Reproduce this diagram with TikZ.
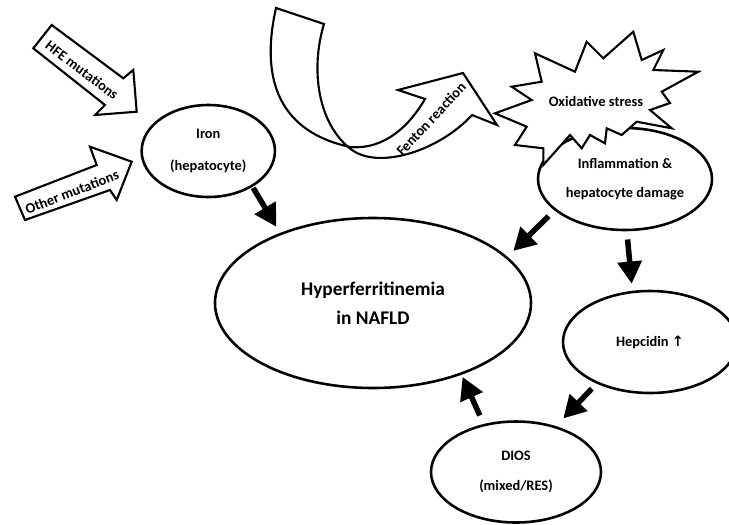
\documentclass[tikz,border=0pt]{standalone}
\usepackage{fontspec}
\setmainfont{Carlito}
\newfontfamily\arrowfont{DejaVu Sans}
\usetikzlibrary{shapes.geometric}
\usetikzlibrary{arrows.meta}
\tikzset{
    bubble/.style={ellipse, draw=black, fill=white, line width=2.2pt, inner sep=0pt, align=center,
             font=\bfseries\fontsize{12.3}{25}\selectfont},
    bigbubble/.style={bubble, font=\bfseries\fontsize{16.5}{25}\selectfont},
    blockarrow/.style={draw=black, fill=white, line width=1.8pt, line join=miter},
    burst/.style={draw=black, fill=white, line width=1.8pt, line join=miter},
    arrowtext/.style={inner sep=0pt, font=\bfseries\fontsize{12.3}{14}\selectfont},
    flow/.style={draw=black, line width=4.7pt, -{Triangle[length=19pt,width=20pt]}}
  }
\begin{document}
\begin{tikzpicture}[x=0.03cm, y=-0.03cm]
  \useasboundingbox (0,0) rectangle (729,524);
  %HFE mutations
      \draw[blockarrow] (51.7,25) -- (123.3,78.3) -- (133.3,70) -- (136.7,111.7) -- (95,115)
            -- (105,105) -- (33.3,48.3) -- cycle;
      \node[arrowtext, rotate=-37] (hfe) at (82,70) {HFE mutations};
  %Other mutations
      \draw[blockarrow] (15,196.7) -- (96.7,165) -- (90,146.7) -- (131.7,161.7) -- (116.7,200)
            -- (110,190) -- (25,220) -- cycle;
      \node[arrowtext, rotate=21] (other) at (72,192) {Other mutations};
  %Fenton reaction
      \draw[blockarrow] (276,8) -- (324,24)
            .. controls (310,70) and (318,125) .. (352,150)
            .. controls (380,170) and (440,150) .. (472,115)
            -- (497,125) -- (463,73) -- (398,90) -- (425,99)
            .. controls (410,125) and (385,150) .. (350,147)
            .. controls (272,130) and (262,70) .. cycle;
      \node[arrowtext, rotate=47] (fenton) at (431,119) {Fenton reaction};
  %Inflammation (under the burst)
      \node[bubble, minimum width=5.22cm, minimum height=3.06cm] (inflam) at (625,179)
            {Inflammation \&\\hepatocyte damage};
  %Oxidative stress
      \draw[burst] (535,53.3) -- (575,71.7) -- (586.7,41.7) -- (603.3,58.3) -- (633.3,31.7)
            -- (641.7,60) -- (663.3,50) -- (653.3,70) -- (698.3,71.7) -- (661.7,91.7)
            -- (670,103) -- (650,110) -- (671.7,128.3) -- (636.7,121.7) -- (621.7,135)
            -- (606.7,128.3) -- (605,143.3) -- (590,135) -- (581.7,148.3) -- (570,135)
            -- (543.3,165) -- (543.3,148.3) -- (515,145) -- (526.7,126.7) -- (495,113.3)
            -- (531.7,100) -- (511.7,86.7) -- (541.7,81.7) -- cycle;
      \node[arrowtext] (oxid) at (596,101) {Oxidative stress};
  %Bubbles
      \node[bigbubble, minimum width=9.48cm, minimum height=5.1cm] (main) at (373,303)
            {Hyperferritinemia\\in NAFLD};
      \node[bubble, minimum width=4cm, minimum height=2.76cm] (iron) at (208.3,151)
            {Iron\\[2pt](hepatocyte)};
      \node[bubble, minimum width=5.22cm, minimum height=3.06cm] (hepc) at (650,342)
            {Hepcidin {\arrowfont ↑}};
      \node[bubble, minimum width=5.1cm, minimum height=3.03cm] (dios) at (516,472)
            {DIOS\\(mixed/RES)};
  %Flow arrows
      \draw[flow, shorten <=1pt, shorten >=6pt] (iron.-39) -- (main.143);
      \draw[flow, shorten <=7pt, shorten >=7pt] (inflam.204) -- (main.19);
      \draw[flow, shorten <=7pt, shorten >=6pt] (inflam.-88) -- (hepc.109);
      \draw[flow, shorten <=6pt, shorten >=9pt] (hepc.218) -- (dios.49);
      \draw[flow, shorten <=8pt, shorten >=2pt] (dios.124) -- (main.-39);
\end{tikzpicture}
\end{document}
